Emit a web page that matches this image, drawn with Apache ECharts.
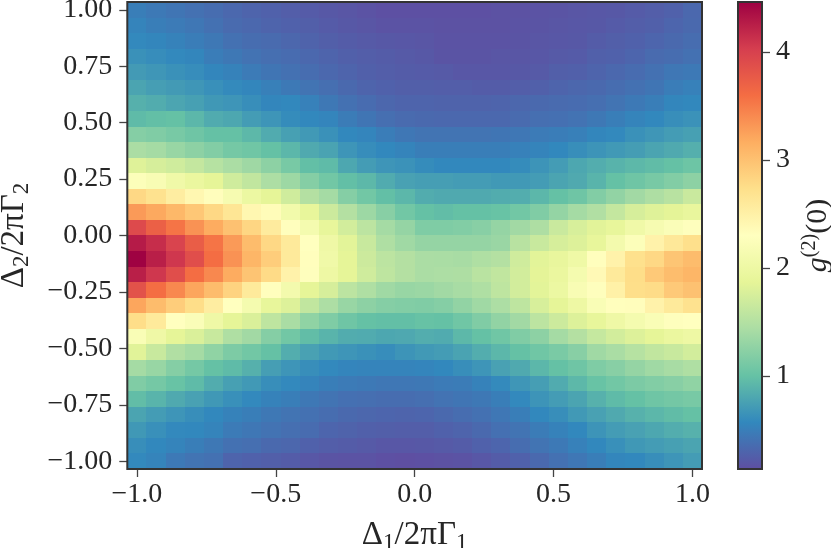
<!DOCTYPE html>
<html>
<head>
<meta charset="utf-8">
<style>
  html, body { margin: 0; padding: 0; background: #fff; }
  #chart { width: 831px; height: 548px; }
</style>
<script src="https://cdn.jsdelivr.net/npm/echarts@6/dist/echarts.min.js"></script>
</head>
<body>
<div id="chart"></div>
<script>
// detuning grid, 30 x 30
const delta1 = [-1, -0.93103, -0.86207, -0.7931, -0.72414, -0.65517, -0.58621, -0.51724, -0.44828, -0.37931, -0.31034, -0.24138, -0.17241, -0.10345, -0.03448,
  0.03448, 0.10345, 0.17241, 0.24138, 0.31034, 0.37931, 0.44828, 0.51724, 0.58621, 0.65517, 0.72414, 0.7931, 0.86207, 0.93103, 1]
const delta2 = [1, 0.93103, 0.86207, 0.7931, 0.72414, 0.65517, 0.58621, 0.51724, 0.44828, 0.37931, 0.31034, 0.24138, 0.17241, 0.10345, 0.03448,
  -0.03448, -0.10345, -0.17241, -0.24138, -0.31034, -0.37931, -0.44828, -0.51724, -0.58621, -0.65517, -0.72414, -0.7931, -0.86207, -0.93103, -1]

// g2(0), one row per delta2 from top to bottom
const g2Rows = [
  [.50,.46,.43,.40,.37,.33,.30,.28,.25,.23,.21,.19,.17,.15,.15,.15,.15,.15,.15,.16,.16,.17,.18,.19,.20,.21,.23,.25,.28,.33],
  [.54,.50,.47,.44,.40,.35,.33,.30,.28,.26,.23,.21,.19,.17,.17,.17,.16,.16,.16,.16,.17,.18,.19,.20,.21,.23,.25,.27,.31,.34],
  [.58,.56,.53,.49,.45,.40,.37,.35,.32,.29,.26,.24,.22,.21,.20,.19,.17,.17,.17,.17,.18,.19,.20,.21,.24,.26,.28,.31,.34,.37],
  [.64,.61,.58,.56,.49,.45,.41,.38,.36,.33,.30,.27,.25,.24,.22,.21,.18,.18,.18,.19,.19,.20,.22,.23,.27,.28,.31,.35,.37,.40],
  [.71,.68,.64,.61,.56,.53,.47,.43,.40,.37,.33,.30,.27,.25,.24,.23,.22,.20,.20,.20,.21,.22,.26,.27,.30,.33,.36,.40,.44,.46],
  [.78,.74,.71,.68,.63,.59,.56,.51,.46,.42,.38,.34,.30,.28,.26,.26,.25,.25,.24,.24,.25,.27,.30,.32,.34,.37,.40,.43,.49,.52],
  [.87,.84,.79,.75,.69,.67,.62,.56,.57,.52,.45,.40,.36,.32,.30,.30,.29,.29,.29,.30,.32,.34,.35,.36,.38,.42,.46,.50,.56,.57],
  [.95,.98,1.0,.92,.83,.80,.72,.67,.60,.57,.55,.48,.43,.38,.35,.34,.33,.33,.33,.33,.35,.38,.39,.41,.45,.50,.54,.57,.62,.65],
  [1.2,1.17,1.12,1.06,1.0,1.0,.93,.83,.75,.70,.64,.57,.55,.49,.44,.42,.42,.42,.42,.43,.44,.47,.49,.51,.56,.58,.64,.68,.72,.75],
  [1.44,1.40,1.32,1.25,1.18,1.10,1.07,1.0,.92,.82,.77,.67,.61,.57,.54,.50,.50,.50,.50,.50,.52,.54,.57,.62,.66,.70,.73,.78,.82,.86],
  [1.82,1.75,1.70,1.62,1.52,1.44,1.36,1.25,1.12,.98,.95,.80,.72,.67,.65,.60,.57,.57,.57,.57,.60,.66,.72,.80,.85,.89,.93,.96,1.0,1.05],
  [2.25,2.18,2.05,1.95,1.87,1.70,1.60,1.45,1.35,1.2,1.08,.98,.93,.83,.76,.74,.74,.72,.72,.70,.70,.72,.78,.82,.90,1.0,1.06,1.12,1.18,1.25],
  [2.8,2.7,2.55,2.42,2.33,2.15,1.98,1.87,1.70,1.50,1.40,1.20,1.08,.98,.92,.84,.82,.82,.82,.84,.85,.92,1.0,1.06,1.18,1.28,1.38,1.46,1.53,1.66],
  [3.3,3.2,3.08,2.95,2.8,2.65,2.42,2.35,2.08,1.9,1.68,1.5,1.35,1.22,1.08,1.0,.97,1.0,1.0,1.02,1.08,1.17,1.29,1.40,1.48,1.62,1.75,1.82,1.86,1.92],
  [3.92,3.72,3.55,3.35,3.18,3.0,2.82,2.58,2.32,2.12,1.90,1.72,1.56,1.40,1.30,1.16,1.16,1.18,1.22,1.30,1.38,1.46,1.66,1.76,1.84,1.90,2.05,2.15,2.22,2.28],
  [4.28,4.15,3.98,3.75,3.55,3.3,3.05,2.8,2.6,2.3,2.02,1.85,1.65,1.47,1.37,1.3,1.3,1.3,1.3,1.33,1.53,1.65,1.75,1.8,1.9,2.1,2.25,2.48,2.62,2.73],
  [4.46,4.25,4.08,3.88,3.6,3.35,3.1,2.9,2.6,2.32,2.05,1.87,1.68,1.56,1.50,1.44,1.43,1.42,1.47,1.50,1.7,1.85,1.92,2.03,2.32,2.48,2.72,2.8,2.97,3.05],
  [4.25,4.08,3.88,3.6,3.42,3.18,2.98,2.78,2.48,2.28,2.0,1.87,1.70,1.58,1.50,1.44,1.45,1.46,1.54,1.6,1.72,1.86,1.95,2.12,2.38,2.6,2.75,2.93,3.04,3.1],
  [3.85,3.6,3.42,3.22,3.05,2.85,2.6,2.32,2.1,1.87,1.75,1.56,1.47,1.37,1.32,1.34,1.38,1.42,1.47,1.58,1.72,1.85,1.98,2.18,2.28,2.5,2.74,2.77,2.93,3.0],
  [3.22,3.05,2.9,2.75,2.55,2.3,2.12,1.9,1.8,1.6,1.45,1.32,1.25,1.2,1.18,1.17,1.2,1.28,1.37,1.45,1.58,1.76,1.87,2.0,2.2,2.32,2.33,2.48,2.6,2.7],
  [2.75,2.6,2.3,2.22,2.02,1.87,1.78,1.58,1.43,1.27,1.16,1.06,1.0,.98,.98,1.01,1.0,1.07,1.17,1.28,1.38,1.56,1.68,1.8,1.9,2.02,2.12,2.2,2.28,2.3],
  [2.2,2.02,1.87,1.78,1.65,1.47,1.38,1.2,1.08,.97,.9,.84,.83,.8,.81,.85,.83,.93,1.0,1.07,1.17,1.25,1.4,1.5,1.63,1.72,1.8,1.87,1.95,2.0],
  [1.83,1.65,1.48,1.4,1.27,1.15,1.08,1.0,.85,.76,.7,.67,.64,.61,.66,.70,.72,.77,.85,.92,1.0,1.07,1.13,1.22,1.37,1.43,1.52,1.6,1.65,1.72],
  [1.4,1.32,1.2,1.1,1.0,.95,.87,.74,.67,.62,.58,.55,.54,.54,.54,.55,.57,.62,.67,.76,.82,.92,1.0,1.06,1.16,1.22,1.3,1.37,1.42,1.47],
  [1.17,1.1,1.02,.95,.84,.75,.7,.62,.58,.54,.5,.47,.46,.44,.44,.45,.47,.48,.53,.59,.68,.74,.83,.93,1.02,1.08,1.14,1.18,1.22,1.27],
  [.97,.9,.82,.76,.69,.63,.58,.53,.5,.45,.42,.39,.38,.37,.37,.38,.41,.43,.45,.50,.58,.66,.72,.78,.88,.95,1.0,1.06,1.09,1.12],
  [.78,.72,.67,.62,.57,.53,.5,.45,.42,.4,.37,.34,.32,.31,.30,.31,.34,.37,.40,.44,.50,.57,.62,.70,.76,.82,.88,.92,.96,1.0],
  [.69,.63,.58,.57,.54,.47,.44,.41,.38,.36,.31,.29,.27,.26,.25,.25,.28,.30,.34,.39,.42,.48,.53,.57,.66,.72,.76,.80,.85,.88],
  [.62,.57,.54,.5,.45,.4,.38,.34,.32,.28,.25,.24,.22,.2,.2,.21,.22,.24,.28,.31,.37,.42,.46,.52,.57,.63,.69,.72,.75,.78],
  [.58,.54,.46,.42,.4,.3,.28,.26,.24,.2,.18,.17,.17,.15,.14,.15,.16,.17,.2,.24,.28,.34,.4,.44,.5,.56,.57,.62,.67,.72]
]

const xTickValues = [-1, -0.5, 0, 0.5, 1]
const xTickLabels = ['\u22121.0', '\u22120.5', '0.0', '0.5', '1.0']
const yTickValues = [-1, -0.75, -0.5, -0.25, 0, 0.25, 0.5, 0.75, 1]
const yTickLabels = ['\u22121.00', '\u22120.75', '\u22120.50', '\u22120.25', '0.00', '0.25', '0.50', '0.75', '1.00']
const barTickValues = [1, 2, 3, 4]
const barTickLabels = ['1', '2', '3', '4']
const g2Min = 0.14
const g2Max = 4.464
const spectralR = ['#5e4fa2', '#3288bd', '#66c2a5', '#abdda4', '#e6f598', '#ffffbf', '#fee08b', '#fdae61', '#f46d43', '#d53e4f', '#9e0142']

const cells = []
g2Rows.forEach((row, r) => row.forEach((v, c) => cells.push([delta1[c], delta2[r], v])))

const ink = '#262626'
const font = 'Liberation Serif'
const frame = { show: true, z: 10, backgroundColor: 'transparent', borderColor: '#333', borderWidth: 2, outerBoundsMode: 'none' }
const axisText = { color: ink, fontFamily: font, fontSize: 28 }
const tickStyle = { show: true, length: 8, lineStyle: { color: '#444', width: 1.3 } }
const noSpine = { show: false, onZero: false } // the frame is the grid border

// half a cell past +-1 on each side
const step = 2 / 29
const edge = 1 + step / 2

const nameRich = {
  m: { fontFamily: font, fontSize: 33, color: ink, lineHeight: 38 },
  sub: { fontFamily: font, fontSize: 23, color: ink, verticalAlign: 'bottom', lineHeight: 23 }
}
const barNameRich = {
  m: { fontFamily: font, fontSize: 30, color: ink, lineHeight: 36 },
  i: { fontFamily: font, fontSize: 30, color: ink, fontStyle: 'italic', lineHeight: 36 },
  sup: { fontFamily: font, fontSize: 20, color: ink, verticalAlign: 'top', lineHeight: 20 }
}

// cell edges snapped to whole pixels, 1px overlap so neighbours do not leave a seam
function renderCell(params, api) {
  const center = api.coord([api.value(0), api.value(1)])
  const size = api.size([step, step])
  const x0 = Math.round(center[0] - size[0] / 2)
  const x1 = Math.round(center[0] + size[0] / 2)
  const y0 = Math.round(center[1] - size[1] / 2)
  const y1 = Math.round(center[1] + size[1] / 2)
  return {
    type: 'rect',
    shape: { x: x0, y: y0, width: x1 - x0 + 1, height: y1 - y0 + 1 },
    style: { fill: api.visual('color') }
  }
}

function renderColorbar(params, api) {
  const top = api.coord([0, api.value(2)])
  const bottom = api.coord([1, api.value(1)])
  const stops = spectralR.map((color, i) => ({ offset: 1 - i / (spectralR.length - 1), color }))
  return {
    type: 'rect',
    shape: { x: top[0], y: top[1], width: bottom[0] - top[0], height: bottom[1] - top[1] },
    style: { fill: new echarts.graphic.LinearGradient(0, 0, 0, 1, stops.reverse()) }
  }
}

const chart = echarts.init(document.getElementById('chart'), null, { renderer: 'canvas' })
chart.setOption({
  animation: false,
  backgroundColor: '#fff',
  grid: [
    { left: 127.3, top: 2, width: 574.7, height: 467, ...frame },
    { left: 738, top: 2, width: 24, height: 467, ...frame }
  ],
  xAxis: [
    {
      type: 'value', gridIndex: 0, min: -edge, max: edge,
      name: '{m|\u0394}{sub|1}{m|/2\u03c0\u0393}{sub|1}',
      nameLocation: 'middle', nameGap: 47,
      nameTextStyle: { rich: nameRich },
      axisLine: noSpine,
      splitLine: { show: false },
      axisTick: { customValues: xTickValues, ...tickStyle },
      axisLabel: {
        customValues: xTickValues, margin: 12, ...axisText,
        formatter: (v) => xTickLabels[xTickValues.indexOf(v)]
      }
    },
    { type: 'value', gridIndex: 1, min: 0, max: 1, show: false }
  ],
  yAxis: [
    {
      type: 'value', gridIndex: 0, min: -edge, max: edge,
      name: '{m|\u0394}{sub|2}{m|/2\u03c0\u0393}{sub|2}',
      nameLocation: 'middle', nameGap: 94, nameRotate: 90,
      nameTextStyle: { rich: nameRich },
      axisLine: noSpine,
      splitLine: { show: false },
      axisTick: { customValues: yTickValues, ...tickStyle },
      axisLabel: {
        customValues: yTickValues, margin: 15, padding: [7, 0, 0, 0], ...axisText,
        formatter: (v) => yTickLabels[yTickValues.indexOf(v)]
      }
    },
    {
      type: 'value', gridIndex: 1, position: 'right', min: g2Min, max: g2Max,
      name: '{i|g}{sup|(2)}{m|(0)}',
      nameLocation: 'middle', nameGap: 38, nameRotate: 90,
      nameTextStyle: { rich: barNameRich },
      axisLine: noSpine,
      splitLine: { show: false },
      axisTick: { customValues: barTickValues, ...tickStyle },
      axisLabel: {
        customValues: barTickValues, margin: 14, padding: [7, 0, 0, 0], ...axisText,
        formatter: (v) => barTickLabels[barTickValues.indexOf(v)]
      }
    }
  ],
  visualMap: {
    show: false,
    type: 'continuous',
    min: g2Min,
    max: g2Max,
    seriesIndex: 0,
    dimension: 2,
    inRange: { color: spectralR }
  },
  series: [
    {
      type: 'custom',
      xAxisIndex: 0,
      yAxisIndex: 0,
      data: cells,
      encode: { x: 0, y: 1 },
      renderItem: renderCell,
      silent: true
    },
    {
      type: 'custom',
      xAxisIndex: 1,
      yAxisIndex: 1,
      data: [[0, g2Min, g2Max]],
      encode: { x: 0, y: [1, 2] },
      renderItem: renderColorbar,
      silent: true
    }
  ]
})

window.addEventListener('resize', () => chart.resize())
</script>
</body>
</html>
